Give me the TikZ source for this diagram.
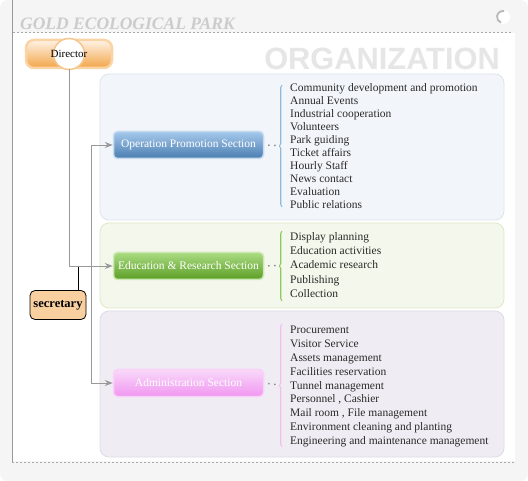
\documentclass[tikz,border=0pt]{standalone}
\usepackage{fontspec}
\setmainfont{Liberation Serif}
\newfontfamily\orgfont{Liberation Sans}
\usetikzlibrary{arrows.meta,decorations.pathreplacing,shapes.geometric}

\definecolor{pagegray}{HTML}{F5F5F5}
\definecolor{titlegray}{HTML}{CCCCCC}
\definecolor{orggray}{HTML}{E6E6E6}
\definecolor{linegray}{HTML}{999999}
\definecolor{dashgray}{HTML}{AAAAAA}
\definecolor{dotgray}{HTML}{888888}
\definecolor{listtext}{HTML}{2A2A2A}
\definecolor{opback}{HTML}{F2F6FA}
\definecolor{opedge}{HTML}{DCE4EC}
\definecolor{edback}{HTML}{F4F7EB}
\definecolor{ededge}{HTML}{E0E8C8}
\definecolor{adback}{HTML}{EFEDF3}
\definecolor{adedge}{HTML}{DEDCE6}
\definecolor{optop}{HTML}{A6C9EC}
\definecolor{opbot}{HTML}{4A7DB0}
\definecolor{opglow}{HTML}{C8DCF0}
\definecolor{edtop}{HTML}{AADC82}
\definecolor{edbot}{HTML}{5C9E26}
\definecolor{edglow}{HTML}{CDE8B5}
\definecolor{adtop}{HTML}{F9D9F9}
\definecolor{adbot}{HTML}{F096F0}
\definecolor{adglow}{HTML}{F8D2F8}
\definecolor{opbrace}{HTML}{8FB8DC}
\definecolor{edbrace}{HTML}{8CC860}
\definecolor{adbrace}{HTML}{F5BCF0}
\definecolor{dirtop}{HTML}{FFF3E6}
\definecolor{dirmid}{HTML}{F9CB94}
\definecolor{dirbot}{HTML}{F2A548}
\definecolor{diredge}{HTML}{FBD4A6}
\definecolor{hubedge}{HTML}{F8C68C}
\definecolor{secfill}{HTML}{F8CF9F}

\begin{document}
\begin{tikzpicture}[x=1pt,y=-1pt,auto]
\tikzstyle{panel} = [line width=0.8pt, rounded corners=9pt]
\tikzstyle{section} = [rectangle, rounded corners=4pt, line width=1.5pt, text=white,
minimum width=150pt, minimum height=27pt, inner sep=0pt,
font=\fontsize{11.5}{13}\selectfont]
\tikzstyle{duties} = [anchor=west, align=left, inner sep=0pt, text=listtext]
\tikzstyle{dots} = [draw=dotgray, line width=1.4pt, dash pattern=on 1.4pt off 4.6pt,
shorten <=4pt, shorten >=12pt]
\tikzstyle{curly} = [line width=1.1pt, decorate, decoration={brace, amplitude=2.5pt}]
\tikzstyle{dirbox} = [rectangle, rounded corners=8pt, minimum width=86pt, minimum height=28pt,
draw=diredge, line width=2.5pt, top color=dirtop, middle color=dirmid, bottom color=dirbot]
\tikzstyle{hub} = [circle, minimum size=31pt, inner sep=0pt, draw=hubedge, line width=1.5pt,
fill=white]
\tikzstyle{secbox} = [rectangle, rounded corners=5pt, draw=black, line width=0.8pt, fill=secfill,
minimum width=56pt, minimum height=29pt, inner sep=0pt, font=\fontsize{12.5}{14}\selectfont\bfseries]
\tikzstyle{line} = [draw=linegray, line width=0.9pt, -{Stealth[length=8pt,width=6pt]}]

\useasboundingbox (0,0) rectangle (528,481);
% frame
\fill[white] (0,0) rectangle (528,481);
\fill[pagegray, rounded corners=8pt] (0,0) rectangle (528,481);
\fill[white] (13,33) rectangle (515,461);
\draw[linegray, line width=0.9pt] (12,0) -- (12,462);
\draw[dashgray, line width=0.8pt, dash pattern=on 2pt off 2pt] (13,32) -- (511,32);
\draw[dashgray, line width=0.8pt, dash pattern=on 2pt off 2pt] (12,462) -- (515,462);
\fill[white] (503,17) circle (7);
\draw[linegray!70, line width=1.8pt] (503,17) ++(280:6) arc (280:110:6);

\node[anchor=base west, inner sep=0pt, text=titlegray,
font=\fontsize{17.5}{20}\selectfont\bfseries\itshape] (title) at (20,29.5) {GOLD ECOLOGICAL PARK};
\node[anchor=base east, inner sep=0pt, text=orggray,
font=\fontsize{30.8}{34}\selectfont\orgfont\bfseries] (org) at (500,70) {ORGANIZATION};

% panels
\draw[panel, draw=opedge, fill=opback] (100,74) rectangle (504,220);
\draw[panel, draw=ededge, fill=edback] (100,223) rectangle (504,308);
\draw[panel, draw=adedge, fill=adback] (100,311) rectangle (504,457);

% people
\node[dirbox] (director) at (69,54) {};
\node[hub, label={[font=\fontsize{11}{13}\selectfont]center:Director}] (hub) at (director) {};
\node[secbox] (secretary) at (58,305) {secretary};

% sections
\node[section, draw=opglow, top color=optop, bottom color=opbot] (op) at (188.5,145) {Operation Promotion Section};
\node[section, draw=edglow, top color=edtop, bottom color=edbot] (edu) at (188.5,266) {Education \& Research Section};
\node[section, draw=adglow, top color=adtop, bottom color=adbot] (adm) at (188.5,383) {Administration Section};

% duties
\node[duties, font=\fontsize{11.5}{13}\selectfont] (oplist) at (290,146) {Community development and promotion\\
Annual Events\\Industrial cooperation\\Volunteers\\Park guiding\\Ticket affairs\\
Hourly Staff\\News contact\\Evaluation\\Public relations};
\node[duties, font=\fontsize{11.5}{14.15}\selectfont] (edlist) at (290,265) {Display planning\\
Education activities\\Academic research\\Publishing\\Collection};
\node[duties, font=\fontsize{11.5}{13.8}\selectfont] (adlist) at (290,386.5) {Procurement\\
Visitor Service\\Assets management\\Facilities reservation\\Tunnel management\\
Personnel , Cashier\\Mail room , File management\\Environment cleaning and planting\\
Engineering and maintenance management};

\draw[curly, draw=opbrace] (282,207) -- (282,85);
\draw[curly, draw=edbrace] (282,301) -- (282,231);
\draw[curly, draw=adbrace] (282,447) -- (282,324);
\draw[dots] (op.east) -- (oplist.west);
\draw[dots] (edu.east) -- (edlist.west);
\draw[dots] (adm.east) -- (adlist.west);

\coordinate (bus) at (91,266);
\coordinate (tap) at (78,266);
\draw[black, line width=0.9pt] (tap) -- (tap |- secretary.north);

\tikzstyle{every path}=[line]
\path (director.south) |- (edu.west);
\path (bus) |- (op.west);
\path (bus) |- (adm.west);

\end{tikzpicture}
\end{document}
